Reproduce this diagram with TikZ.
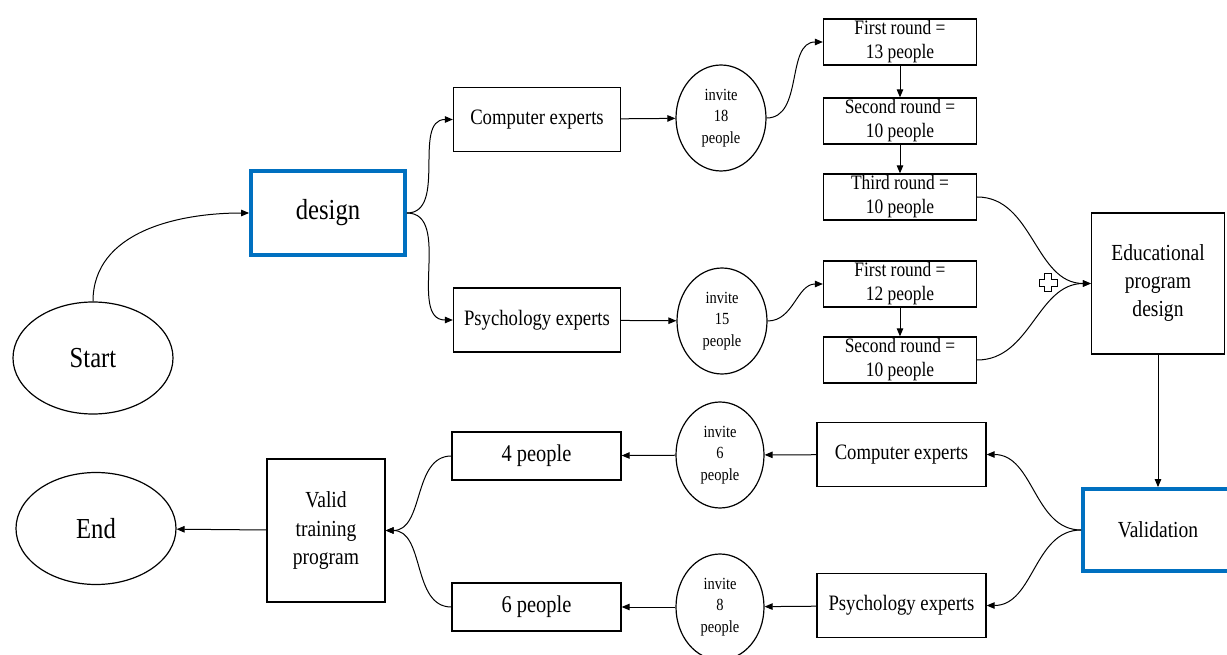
\documentclass[tikz,border=0pt]{standalone}
\usepackage{fontspec}
\setmainfont{Liberation Serif}[FakeStretch=0.85]
\usetikzlibrary{arrows.meta, positioning, shapes.geometric}
\usepackage{xcolor}
\definecolor{stageblue}{RGB}{0,112,192}

\begin{document}
\begin{tikzpicture}[x=1pt,y=-1pt,->,>={Triangle[length=8pt,width=6.5pt]},line width=1pt]
    \tikzstyle{box}=[rectangle, draw=black, line width=1.3pt, align=center, inner sep=0pt, font=\fontsize{22}{28.5}\selectfont]
    \tikzstyle{stage}=[box, draw=stageblue, line width=3.8pt, font=\fontsize{29}{34}\selectfont]
    \tikzstyle{oval}=[ellipse, draw=black, line width=1.2pt, inner sep=0pt, minimum width=160pt, minimum height=112pt, font=\fontsize{29}{34}\selectfont]
    \tikzstyle{invite}=[ellipse, draw=black, line width=1.2pt, inner sep=0pt, minimum width=90pt, minimum height=106pt, align=center, font=\fontsize{17}{21.5}\selectfont]
    \tikzstyle{roundbox}=[box, minimum width=153pt, minimum height=46pt, font=\fontsize{20.5}{24}\selectfont]
    \tikzstyle{expert}=[box, minimum width=167pt, minimum height=64pt]
    \tikzstyle{people}=[box, minimum width=169pt, minimum height=48pt, font=\fontsize{24}{28}\selectfont]

    \useasboundingbox (0,0) rectangle (1227,655);

    \node[oval] (start) at (93,358) {Start};
    \node[stage, minimum width=154pt, minimum height=84pt] (design) at (328,213) {design};

    \node[expert] (ce1) at (537,119.5) {Computer experts};
    \node[expert] (pe1) at (537,320) {Psychology experts};
    \node[invite] (inv18) at (721,118) {invite\\18\\people};
    \node[invite] (inv15) at (722,321) {invite\\15\\people};

	\foreach \i/\yy/\txt in {1/42/{First round =\\13 people},2/121/{Second round =\\10 people},3/197/{Third round =\\10 people}}{
		\node[roundbox] (a-\i) at (900,\yy) {\txt};
	}
	\foreach \i/\yy/\txt in {1/284/{First round =\\12 people},2/360/{Second round =\\10 people}}{
		\node[roundbox] (b-\i) at (900,\yy) {\txt};
	}

    \node[box, minimum width=133pt, minimum height=141pt, font=\fontsize{23}{28}\selectfont] (edu) at (1158,283.5) {Educational\\program\\design};
    \node[stage, minimum width=150pt, minimum height=82pt, font=\fontsize{23}{28}\selectfont] (valid) at (1158,530) {Validation};

    % bottom half runs right to left
    \node[expert, minimum width=169pt] (ce2) at (901.5,454.5) {Computer experts};
    \node[expert, minimum width=169pt] (pe2) at (901.5,605.5) {Psychology experts};
    \node[invite, minimum width=88pt] (inv6) at (720,455) {invite\\6\\people};
    \node[invite, minimum width=88pt] (inv8) at (720,607) {invite\\8\\people};
    \node[people] (p4) at (536.5,456) {4 people};
    \node[people] (p6) at (536.5,607) {6 people};
    \node[box, minimum width=118pt, minimum height=143pt, font=\fontsize{23}{28.5}\selectfont] (vtp) at (326,530.5) {Valid\\training\\program};
    \node[oval] (end) at (96,528.5) {End};

	\path (start.north) edge[out=90,in=180] (design.west);
	\path (design.east) edge[out=0,in=180] (ce1.west);
	\path (design.east) edge[out=0,in=180] (pe1.west);
	\path (ce1) edge (inv18);
	\path (pe1) edge (inv15);
	\path (inv18.east) edge[out=0,in=180] (a-1.west);
	\path (inv15.east) edge[out=0,in=180] (b-1.west);
	\path (a-1) edge (a-2);
	\path (a-2) edge (a-3);
	\path (b-1) edge (b-2);
	\path (a-3.east) edge[out=0,in=180] (edu.west);
	\path (b-2.east) edge[out=0,in=180] (edu.west);
	\path (edu) edge (valid);

	\path (valid.west) edge[out=180,in=0] (ce2.east);
	\path (valid.west) edge[out=180,in=0] (pe2.east);
	\path (ce2) edge (inv6);
	\path (pe2) edge (inv8);
	\path (inv6) edge (p4);
	\path (inv8) edge (p6);
	\path (p4.west) edge[out=180,in=0] (vtp.east);
	\path (p6.west) edge[out=180,in=0] (vtp.east);
	\path (vtp) edge (end);

	% the plus where both rounds join
	\draw[-, line width=1pt, fill=white] (1048,283) +(-3.5,-9) -- +(3.5,-9) -- +(3.5,-3.5) -- +(9,-3.5) -- +(9,3.5) -- +(3.5,3.5) -- +(3.5,9) -- +(-3.5,9) -- +(-3.5,3.5) -- +(-9,3.5) -- +(-9,-3.5) -- +(-3.5,-3.5) -- cycle;
\end{tikzpicture}
\end{document}
